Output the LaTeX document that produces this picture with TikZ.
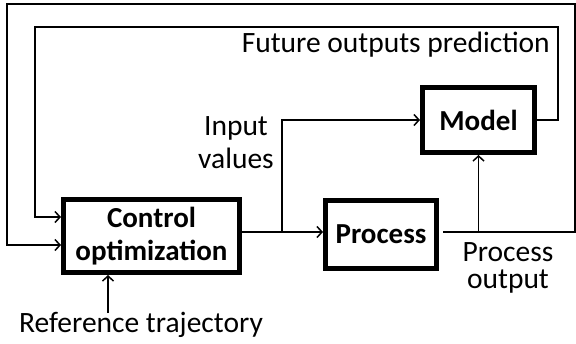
\documentclass[tikz,border=0pt]{standalone}
\usepackage{fontspec}
\setmainfont{Carlito}
\usetikzlibrary{arrows.meta}

\begin{document}
\begin{tikzpicture}[x=1pt,y=-1pt,
  every node/.style={font=\fontsize{29.5}{33}\selectfont},
  block/.style={draw,line width=5pt,inner sep=0pt,align=center,
    font=\fontsize{29}{33}\selectfont\bfseries},
  lbl/.style={align=center,inner sep=0pt},
  wire/.style={line width=1.5pt},
  link/.style={wire,-{Straight Barb[length=5pt,width=11pt]}}]
\useasboundingbox (0,0) rectangle (576,343);
% blocks
\node[block,minimum width=176,minimum height=73] (ctrl) at (151.5,236) {Control\\optimization};
\node[block,minimum width=111,minimum height=68] (proc) at (381,234) {Process};
\node[block,minimum width=112,minimum height=65] (model) at (478.5,120) {Model};
% labels
\node[lbl,anchor=east] (fut) at (550,45) {Future outputs prediction};
\node[lbl] (inp) at (236,143) {Input\\values};
\node[lbl,font=\fontsize{29.5}{27}\selectfont] (outlbl) at (508,268) {Process\\output};
\node[lbl] (ref) at (141,325) {Reference trajectory};
% helper points
\coordinate (split) at (282,232);
\coordinate (fb1) at (7,245);
\coordinate (fb2) at (35,217);
\coordinate (refarr) at (108,313);
% connectors
\draw[link] (ctrl.east |- split) -- (split -| proc.west);
\draw[link] (split) |- (model.west);
\draw[link,shorten <=4pt] (proc.east |- split) -- (575,232) |- (fb1 |- 0,4) -- (fb1) -- (fb1 -| ctrl.west);
\draw[link] (model.south |- split) -- (model.south);
\draw[link] (model.east) -| (558,27) -| (fb2) -- (fb2 -| ctrl.west);
\draw[link] (refarr) -- (refarr |- ctrl.south);
\end{tikzpicture}
\end{document}
